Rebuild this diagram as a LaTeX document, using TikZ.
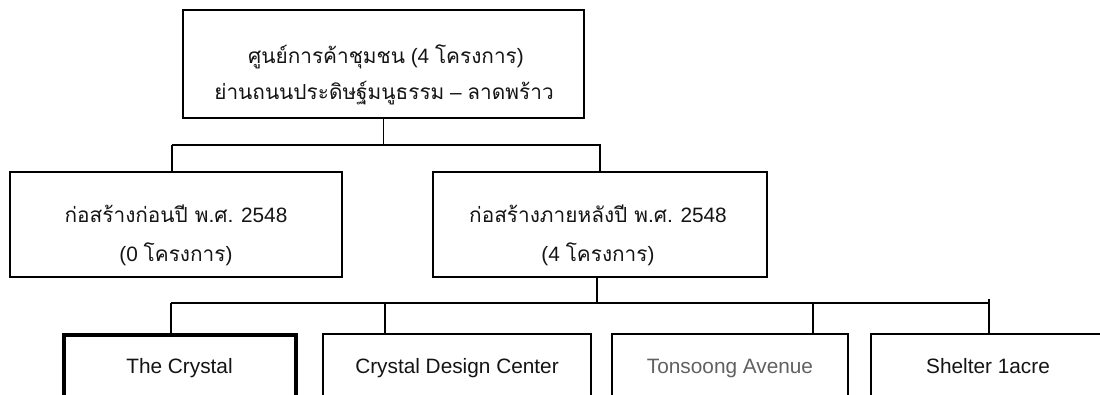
\documentclass[tikz,border=0pt]{standalone}
\usepackage{fontspec}
\setmainfont{Liberation Sans}
\newfontfamily\thai[Script=Thai]{Loma}
\newcommand\tx[1]{{\thai #1}}
\begin{document}
\begin{tikzpicture}[x=1pt,y=-1pt,
  box/.style={draw=black, line width=1.5pt, rectangle, inner sep=0pt, fill=white},
  txt/.style={inner sep=0pt, anchor=base, text=black!92, font=\fontsize{20.8}{25}\selectfont},
  link/.style={draw=black, line width=1.3pt},
]
\useasboundingbox (0,0) rectangle (1100,394);
\clip (0,0) rectangle (1100,394);
\fill[white] (0,0) rectangle (1100,394);

% ---- boxes
\node[box, line width=2pt, minimum width=401pt, minimum height=108pt] (top) at (383.5,64) {};
\node[box, minimum width=332pt, minimum height=105pt] (left) at (176,224.5) {};
\node[box, minimum width=334pt, minimum height=105pt] (right) at (600,224.5) {};
\node[box, line width=4pt, minimum width=232pt, minimum height=66pt] (b1) at (180,368) {};
\node[box, minimum width=268pt, minimum height=66pt] (b2) at (457,367) {};
\node[box, minimum width=236pt, minimum height=66pt] (b3) at (730,367) {};
\node[box, minimum width=234pt, minimum height=66pt] (b4) at (988,367) {};

% ---- texts
\node[txt] (top1) at (386,63) {\tx{ศูนย์การค้าชุมชน} (4 \tx{โครงการ})};
\node[txt] (top2) at (384,99) {\tx{ย่านถนนประดิษฐ์มนูธรรม} – \tx{ลาดพร้าว}};
\node[txt] (left1) at (176,222) {\tx{ก่อสร้างก่อนปี พ.ศ.} 2548};
\node[txt] (left2) at (176,261) {(0 \tx{โครงการ})};
\node[txt] (right1) at (598,222) {\tx{ก่อสร้างภายหลังปี พ.ศ.} 2548};
\node[txt] (right2) at (598,261) {(4 \tx{โครงการ})};
\node[txt] (t1) at (179.5,373) {The Crystal};
\node[txt] (t2) at (457,373) {Crystal Design Center};
\node[txt, text=black!62] (t3) at (730,373) {Tonsoong Avenue};
\node[txt] (t4) at (988,373) {Shelter 1acre};

% ---- connectors
\coordinate (busA) at (172,145);
\coordinate (busB) at (601,145);
\coordinate (dR) at (600,145);
\draw[link] (top.south) -- (top.south |- busA);
\draw[link] (busA) -- (busB);
\draw[link] (busA) -- (busA |- left.north);
\draw[link] (dR) -- (dR |- right.north);

\coordinate (busC) at (171,303);
\coordinate (busD) at (989,303);
\coordinate (up) at (597,303);
\coordinate (d2) at (385,303);
\coordinate (d3) at (813,303);
\coordinate (d4) at (989,299);
\draw[link] (up |- right.south) -- (up);
\draw[link] (busC) -- (busD);
\draw[link] (busC) -- (busC |- b1.north);
\draw[link] (d2) -- (d2 |- b2.north);
\draw[link] (d3) -- (d3 |- b3.north);
\draw[link] (d4) -- (d4 |- b4.north);
\end{tikzpicture}
\end{document}
